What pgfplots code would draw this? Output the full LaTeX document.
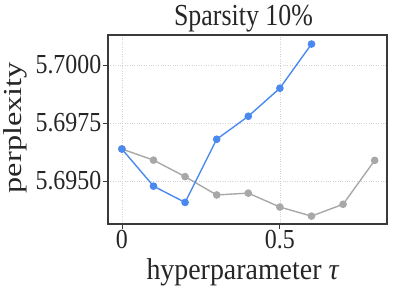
\documentclass[border=0pt]{standalone}
\usepackage{pgfplots}
\pgfplotsset{compat=1.18}
\usepackage{fontspec}
\setmainfont{Liberation Serif}
\definecolor{bl}{HTML}{4A8AF0}
\definecolor{gr}{HTML}{A8A8A8}
\definecolor{fr}{HTML}{3A3A3A}
\begin{document}
\begin{tikzpicture}[x=1bp,y=1bp]
\path[use as bounding box] (0,0) rectangle (399,299);
\begin{axis}[
  at={(108bp,75bp)}, anchor=south west,
  scale only axis, width=279bp, height=189bp,
  xmin=-0.044, xmax=0.839, ymin=5.69315, ymax=5.70129,
  xtick={0,0.5}, xticklabels={\scalebox{1}[1.15]{0},\scalebox{1}[1.15]{0.5}},
  ytick={5.695,5.6975,5.7},
  yticklabels={\scalebox{1}[1.15]{5.6950},\scalebox{1}[1.15]{5.6975},\scalebox{1}[1.15]{5.7000}},
  tick align=outside, tick pos=left,
  major tick length=5bp,
  every tick/.style={fr, line width=0.8pt},
  axis line style={fr, line width=1.1pt},
  grid=major, grid style={dotted, gray!35, line width=0.5pt},
  tick label style={font=\fontsize{24}{28}\selectfont, text=black!85, inner sep=1.5bp},
  title={\scalebox{1}[1.18]{Sparsity 10\%}},
  title style={font=\fontsize{26}{30}\selectfont, text=black!85, at={(axis description cs:0.5,1)}, anchor=base, yshift=4bp, xshift=-4bp, inner sep=0pt},
  xlabel={\scalebox{1}[1.08]{hyperparameter {\itshape τ}}}, ylabel={\scalebox{1.25}[1]{perplexity}},
  xlabel style={font=\fontsize{28}{32}\selectfont, text=black!85, at={(axis description cs:0.5,0)}, anchor=base, yshift=-55bp, xshift=-5bp, inner sep=0pt},
  ylabel style={font=\fontsize{26}{30}\selectfont, text=black!85, at={(axis description cs:-0.376,0.51)}, anchor=north, inner sep=0pt},
]
\addplot[gr, line width=1.4pt, mark=*, mark size=3.1bp, mark options={draw=gr, fill=gr}] coordinates {
(0,5.69638) (0.1,5.69590) (0.2,5.69519) (0.3,5.69440) (0.4,5.69448) (0.5,5.69388) (0.6,5.69349) (0.7,5.69400) (0.8,5.69589)};
\addplot[bl, line width=1.4pt, mark=*, mark size=3.1bp, mark options={draw=bl, fill=bl}] coordinates {
(0,5.69638) (0.1,5.69478) (0.2,5.69408) (0.3,5.69680) (0.4,5.69779) (0.5,5.69900) (0.6,5.70090)};
\end{axis}
\end{tikzpicture}
\end{document}
